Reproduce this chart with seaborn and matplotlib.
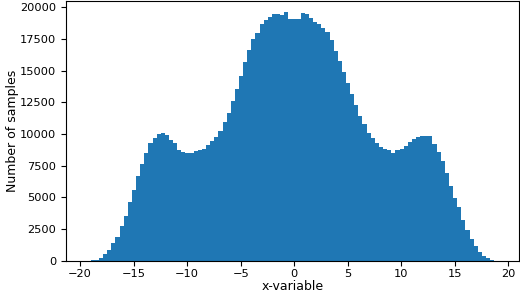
import numpy as np
import pandas as pd
import matplotlib
matplotlib.use("Agg")
import matplotlib.pyplot as plt
import seaborn as sns

# Histogram range (data min / max) and number of bins
x_min, x_max = -19.39, 19.07
n_bins = 100

# Counts per bin (left to right)
counts = [
    5, 30, 100, 210, 550, 870, 1400, 1870, 2710, 3500,
    4610, 5610, 6660, 7640, 8510, 9300, 9700, 9960, 10090, 9880,
    9560, 9300, 8770, 8560, 8510, 8510, 8640, 8770, 8850, 9100,
    9430, 9760, 10220, 10930, 11670, 12600, 13540, 14570, 15680, 16610,
    17520, 17940, 18680, 19000, 19250, 19470, 19470, 19370, 19630, 19050,
    19100, 19100, 19530, 19450, 19180, 18840, 18660, 18390, 18000, 17420,
    16550, 15760, 14890, 14050, 13120, 12250, 11410, 10750, 10090, 9700,
    9300, 8990, 8850, 8700, 8510, 8700, 8850, 9040, 9350, 9620,
    9780, 9830, 9830, 9800, 9170, 8590, 7850, 6930, 5870, 4960,
    4240, 3240, 2450, 1710, 1130, 660, 340, 210, 30, 5,
]

x_ticks = [-20, -15, -10, -5, 0, 5, 10, 15, 20]
y_ticks = [0, 2500, 5000, 7500, 10000, 12500, 15000, 17500, 20000]
x_label = "x-variable"
y_label = "Number of samples"

edges = np.linspace(x_min, x_max, n_bins + 1)
centers = (edges[:-1] + edges[1:]) / 2
df = pd.DataFrame({"x": centers, "count": counts})

plt.rcParams["font.family"] = ["DejaVu Sans"]
fig = plt.figure(figsize=(5.2, 2.94), dpi=100)
ax = fig.add_axes([0.127, 0.113, 0.871, 0.885])

sns.histplot(data=df, x="x", weights="count", bins=n_bins,
             binrange=(x_min, x_max), ax=ax,
             color="#1f77b4", alpha=1.0, linewidth=0, edgecolor="none")

ax.set_xlim(x_min - 0.05 * (x_max - x_min), x_max + 0.05 * (x_max - x_min))
ax.set_ylim(0, max(counts) * 1.045)
ax.set_xticks(x_ticks)
ax.set_yticks(y_ticks)
ax.tick_params(labelsize=8.2, length=3.5, width=0.8)
ax.tick_params(axis="x", pad=2.5)
ax.set_xlabel(x_label, fontsize=9, labelpad=0.5)
ax.set_ylabel(y_label, fontsize=9, labelpad=0.5)
for s in ax.spines.values():
    s.set_linewidth(0.8)

fig.savefig("out.png", dpi=100)
